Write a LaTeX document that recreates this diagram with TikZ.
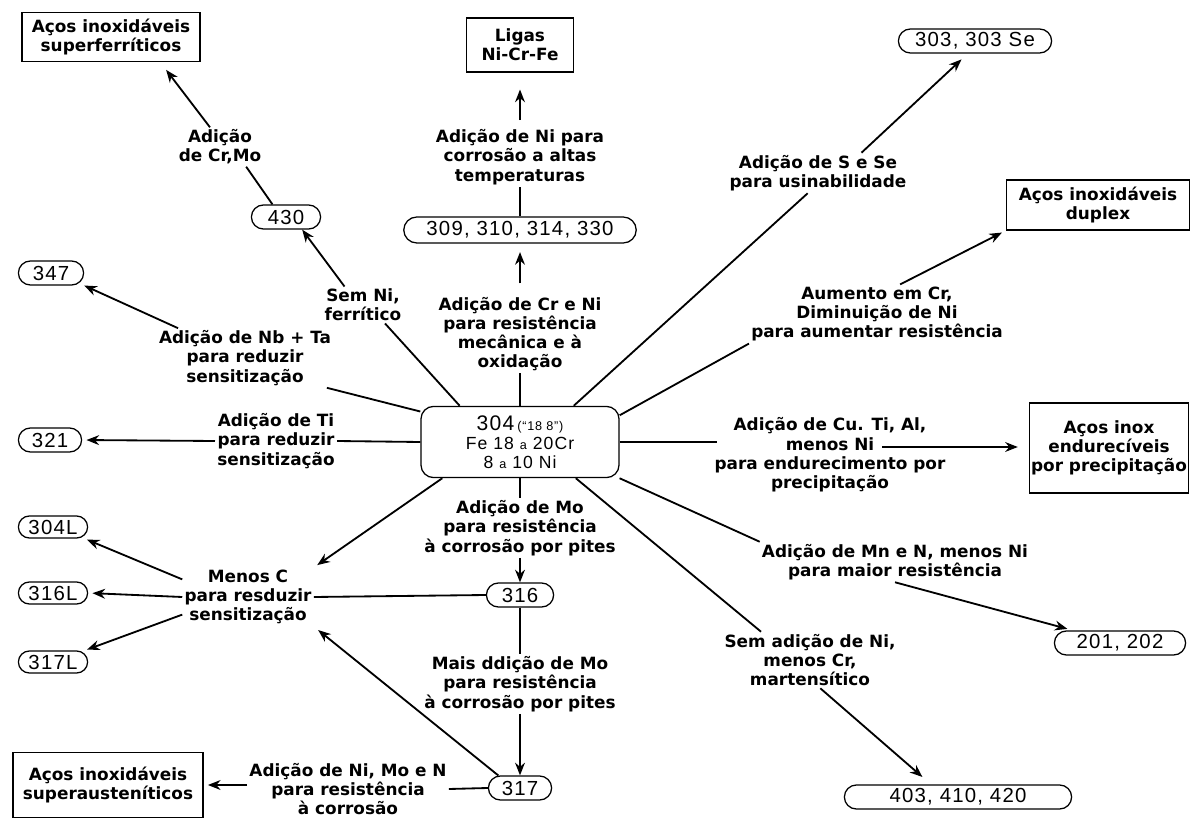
\documentclass[tikz,border=0pt]{standalone}
\usepackage{fontspec}
\setmainfont{DejaVu Sans}
\newfontfamily\pillfam[LetterSpace=6]{Liberation Sans}
\usetikzlibrary{arrows.meta,shapes.misc}

\begin{document}
\begin{tikzpicture}[
  x=0.025cm, y=-0.025cm, line width=1.3pt,
  lbl/.style={align=center,inner sep=1pt,font=\fontsize{12}{13.7}\selectfont\bfseries},
  box/.style={draw,line width=0.9pt,align=center,inner sep=1pt,font=\fontsize{12}{13.7}\selectfont\bfseries},
  pill/.style={rounded rectangle,draw,line width=0.9pt,minimum height=0.6cm,inner sep=1pt,font=\pillfam\fontsize{14.5}{16}\selectfont},
  arr/.style={-{Stealth[length=9pt,width=7pt]}}
]
  \useasboundingbox (0,0) rectangle (1195,819);

  \node[draw,rounded corners=9pt,line width=0.9pt,minimum width=4.95cm,minimum height=1.78cm,
    align=center,font=\pillfam\fontsize{12.5}{13.6}\selectfont] (c304) at (520,442)
    {{\fontsize{15}{15}\selectfont 304}\,{\fontsize{9}{9}\selectfont(“18 8”)}\\Fe 18 {\small a} 20Cr\\8 {\small a} 10 Ni};

  \node[box,minimum width=4.45cm,minimum height=1.22cm] (supfer) at (111,37) {Aços inoxidáveis\\superferríticos};
  \node[box,minimum width=2.68cm,minimum height=1.35cm] (ligas) at (520,45) {Ligas\\Ni-Cr-Fe};
  \node[box,minimum width=4.58cm,minimum height=1.25cm] (duplex) at (1098,205) {Aços inoxidáveis\\duplex};
  \node[box,minimum width=3.95cm,minimum height=2.25cm] (precip) at (1109,448) {Aços inox\\endurecíveis\\por precipitação};
  \node[box,minimum width=4.75cm,minimum height=1.62cm] (supaus) at (108,785) {Aços inoxidáveis\\superausteníticos};

  \node[pill,minimum width=1.8cm] (a430) at (286,217) {430};
  \node[pill,minimum width=5.88cm,minimum height=0.65cm] (a309) at (520,230) {309, 310, 314, 330};
  \node[pill,minimum width=3.9cm] (a303) at (975,41) {303, 303 Se};
  \node[pill,minimum width=1.7cm] (a347) at (51,273) {347};
  \node[pill,minimum width=1.65cm] (a321) at (50,440) {321};
  \node[pill,minimum width=1.8cm,minimum height=0.55cm] (a304L) at (53,527) {304L};
  \node[pill,minimum width=1.8cm,minimum height=0.55cm] (a316L) at (53,593) {316L};
  \node[pill,minimum width=1.8cm,minimum height=0.55cm] (a317L) at (53,662) {317L};
  \node[pill,minimum width=1.75cm] (a316) at (520,595) {316};
  \node[pill,minimum width=1.65cm] (a317) at (520,788) {317};
  \node[pill,minimum width=3.35cm] (a201) at (1120,643) {201, 202};
  \node[pill,minimum width=5.75cm] (a403) at (958,797) {403, 410, 420};

  \node[lbl] (lcrmo) at (220,147) {Adição\\de Cr,Mo};
  \node[lbl] (lnialta) at (520,157) {Adição de Ni para\\corrosão a altas\\temperaturas};
  \node[lbl] (lcrni) at (520,334) {Adição de Cr e Ni\\para resistência\\mecânica e à\\oxidação};
  \node[lbl] (lsemni) at (363,305) {Sem Ni,\\ferrítico};
  \node[lbl] (lnbta) at (245,358) {Adição de Nb + Ta\\para reduzir\\sensitização};
  \node[lbl] (lti) at (276,441) {Adição de Ti\\para reduzir\\sensitização};
  \node[lbl] (lsse) at (818,173) {Adição de S e Se\\para usinabilidade};
  \node[lbl] (ldup) at (877,314) {Aumento em Cr,\\Diminuição de Ni\\para aumentar resistência};
  \node[lbl] (lcu) at (830,455) {Adição de Cu. Ti, Al,\\menos Ni\\para endurecimento por\\precipitação};
  \node[lbl] (lmn) at (895,562) {Adição de Mn e N, menos Ni\\para maior resistência};
  \node[lbl] (lsemadd) at (810,660) {Sem adição de Ni,\\menos Cr,\\martensítico};
  \node[lbl] (lmo) at (520,528) {Adição de Mo\\para resistência\\à corrosão por pites};
  \node[lbl] (lmais) at (520,684) {Mais ddição de Mo\\para resistência\\à corrosão por pites};
  \node[lbl] (lmenosc) at (248,597) {Menos C\\para resduzir\\sensitização};
  \node[lbl] (lnimo) at (348,789) {Adição de Ni, Mo e N\\para resistência\\à corrosão};

  \coordinate (cuL) at (717,442);
  \coordinate (cuR) at (882,447);

  \draw (c304.149) -- (lsemni.-40);
  \draw[arr] (lsemni.135) -- (a430.-38);
  \draw (a430.137) -- (lcrmo.-37);
  \draw[arr,shorten >=7pt] (lcrmo.117) -- (supfer.-27);
  \draw (c304.north) -- (lcrni.south);
  \draw[arr,shorten <=8pt,shorten >=6pt] (lcrni.north) -- (a309.south);
  \draw (a309.north) -- (lnialta.south);
  \draw[arr,shorten <=5pt,shorten >=12pt] (lnialta.north) -- (ligas.south);
  \draw (c304.34) -- (lsse.243);
  \draw[arr,shorten >=6pt] (lsse.25) -- (a303.240);
  \draw (c304.15) -- (ldup.south west);
  \draw[arr,shorten >=3pt] (ldup.52) -- (duplex.south west);
  \draw (c304.east) -- (cuL);
  \draw[arr,shorten >=8pt] (cuR) -- (precip.west |- cuR);
  \draw (c304.340) -- (lmn.north west);
  \draw[arr,shorten >=4pt] (lmn.south) -- (a201.165);
  \draw (c304.327) -- (lsemadd.150);
  \draw[arr,shorten >=8pt] (lsemadd.-70) -- (a403.155);
  \draw (c304.south) -- (lmo.north);
  \draw[arr] (lmo.south) -- (a316.north);
  \draw (a316.south) -- (lmais.north);
  \draw[arr] (lmais.south) -- (a317.north);
  \draw[arr,shorten >=3pt] (c304.205) -- (lmenosc.north east);
  \draw (a316.west) -- (lmenosc.east);
  \draw[arr,shorten >=4pt] (a317.150) -- (lmenosc.south east);
  \draw[arr,shorten >=4pt] (lmenosc.165) -- (a304L.-20);
  \draw[arr,shorten >=3pt] (lmenosc.west) -- (a316L.east);
  \draw[arr,shorten >=4pt] (lmenosc.195) -- (a317L.20);
  \draw (a317.west) -- (lnimo.east);
  \draw[arr,shorten >=3pt] (supaus.east -| lnimo.west) -- (supaus.east);
  \draw (c304.163) -- (lnbta.-20);
  \draw[arr,shorten >=4pt] (lnbta.156) -- (a347.-20);
  \draw (c304.west) -- (lti.east);
  \draw[arr,shorten >=3pt] (lti.west) -- (a321.east);
\end{tikzpicture}
\end{document}
